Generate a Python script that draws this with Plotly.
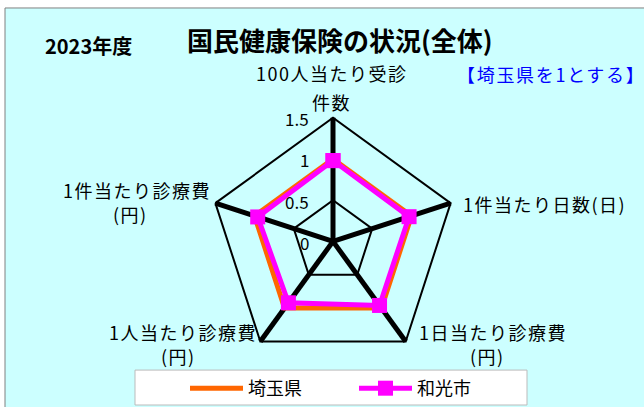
import plotly.graph_objects as go

categories = ["100人当たり受診<br>件数", "1件当たり日数(日)", "1日当たり診療費<br>(円)",
              "1人当たり診療費<br>(円)", "1件当たり診療費<br>(円)"]
saitama = [1.0, 1.0, 1.0, 1.0, 1.0]
wako = [0.98, 0.97, 0.96, 0.92, 0.96]
radial_ticks = [0, 0.5, 1, 1.5]
radial_labels = ["0", "0.5", "1", "1.5"]

FONT = "Noto Sans CJK JP"
W, H = 644, 407
cx, cy, rad = 333, 242, 124
RMAX = 1.5

cats_closed = categories + [categories[0]]

fig = go.Figure()
fig.add_trace(go.Scatterpolar(
    r=saitama + [saitama[0]], theta=cats_closed, name="埼玉県",
    mode="lines", line=dict(color="#FF6600", width=5)))
fig.add_trace(go.Scatterpolar(
    r=wako + [wako[0]], theta=cats_closed, name="和光市",
    mode="lines+markers", line=dict(color="#FF00FF", width=5),
    marker=dict(symbol="square", size=15, color="#FF00FF")))


def spaced(t, sp=1.5):
    return f'<span style="letter-spacing:{sp}px">{t}</span>'


# label placement per category: list of (x, y, xanchor) for each line
label_pos = [
    [(331, 73, "center"), (331, 102, "center")],
    [(461, 205, "left")],
    [(417, 333, "left"), (487, 357, "center")],
    [(259, 333, "right"), (178, 357, "center")],
    [(213, 190, "right"), (130, 215, "center")],
]

annotations = [
    dict(text="<b>国民健康保険の状況(全体)</b>", x=340 / W, y=1 - 40 / H,
         xanchor="center", yanchor="middle", xref="paper", yref="paper",
         showarrow=False, font=dict(size=26, family=FONT)),
    dict(text="<b>2023年度</b>", x=88 / W, y=1 - 46 / H,
         xanchor="center", yanchor="middle", xref="paper", yref="paper",
         showarrow=False, font=dict(size=20, family=FONT)),
    dict(text=spaced("【埼玉県を1とする】", 1.7), x=551 / W, y=1 - 74 / H,
         xanchor="center", yanchor="middle", xref="paper", yref="paper",
         showarrow=False, font=dict(size=18, family=FONT, color="#0000FF")),
]
for cat, poss in zip(categories, label_pos):
    lines = cat.split("<br>")
    for ln, (x, y, xa) in zip(lines, poss):
        annotations.append(dict(text=spaced(ln), x=x / W, y=1 - y / H, xref="paper", yref="paper",
                                xanchor=xa, yanchor="middle", showarrow=False,
                                font=dict(size=18, family=FONT)))
for v, lab in zip(radial_ticks, radial_labels):
    ypix = cy - v * rad / RMAX + 1
    annotations.append(dict(text=lab, x=311 / W, y=1 - ypix / H, xref="paper", yref="paper",
                            xanchor="right", yanchor="middle", showarrow=False,
                            font=dict(size=17, family=FONT)))

fig.update_layout(
    width=W, height=H,
    margin=dict(l=0, r=0, t=0, b=0),
    paper_bgcolor="white",
    font=dict(family=FONT, size=14, color="black"),
    polar=dict(
        domain=dict(x=[(cx - rad) / W, (cx + rad) / W],
                    y=[(H - cy - rad) / H, (H - cy + rad) / H]),
        bgcolor="rgba(0,0,0,0)",
        gridshape="linear",
        radialaxis=dict(range=[0, RMAX], tickvals=radial_ticks, showticklabels=False,
                        angle=90, showline=False, gridcolor="black", gridwidth=2, ticks=""),
        angularaxis=dict(rotation=90, direction="clockwise", showticklabels=False,
                         gridcolor="black", gridwidth=5,
                         linecolor="black", linewidth=2, ticks=""),
    ),
    legend=dict(orientation="h", x=185 / W, xanchor="left", y=1 - 389 / H, yanchor="middle",
                bgcolor="rgba(0,0,0,0)", borderwidth=0, itemwidth=53,
                font=dict(size=18, family=FONT), entrywidth=101, entrywidthmode="pixels"),
    shapes=[
        dict(type="rect", xref="paper", yref="paper",
             x0=5 / W, x1=1.01, y0=-0.01, y1=1 - 8 / H,
             fillcolor="#CCFFFF", line=dict(color="#808080", width=1), layer="below"),
        dict(type="rect", xref="paper", yref="paper",
             x0=135 / W, x1=527 / W, y0=1 - 406 / H, y1=1 - 371 / H,
             fillcolor="white", line=dict(color="#BBBBBB", width=1), layer="below"),
    ],
    annotations=annotations,
)
fig.write_html("out.html", config={"displayModeBar": False},
               post_script="document.body.style.margin='0px';")
